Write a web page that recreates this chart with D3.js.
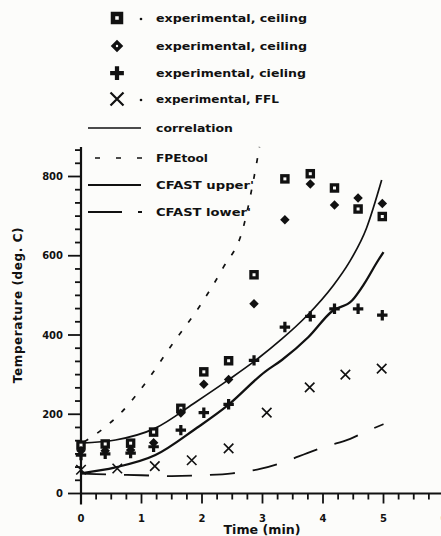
<!DOCTYPE html>
<html>
<head>
<meta charset="utf-8">
<script src="https://cdn.jsdelivr.net/npm/d3@7"></script>
<style>
  html, body { margin: 0; padding: 0; background: #fcfcfa; }
  svg { display: block; }
  text { font-family: "DejaVu Sans", sans-serif; fill: #111; }
</style>
</head>
<body>
<svg id="chart" width="441" height="536"></svg>
<script>
// Experimental measurements (time in minutes, temperature in deg. C)
const expTimes       = [0, 0.4, 0.82, 1.2, 1.65, 2.03, 2.44, 2.86, 3.37, 3.79, 4.19, 4.58, 4.98];
const ceilingSquare  = [122, 125, 127, 155, 215, 307, 335, 552, 794, 807, 771, 718, 699];
const ceilingDiamond = [108, 108, 110, 128, 203, 276, 288, 479, 691, 781, 728, 746, 732];
const ceilingPlus    = [ 97, 100, 102, 118, 160, 204, 225, 336, 420, 447, 466, 466, 450];
const fflTimes       = [0, 0.6, 1.22, 1.83, 2.44, 3.07, 3.78, 4.37, 4.97];
const fflTemps       = [60, 63, 69, 84, 114, 204, 268, 300, 315];

// Model predictions
const corrTimes  = [0, 0.57, 1.23, 1.9, 2.43, 2.92, 3.32, 3.73, 4.17, 4.42, 4.72, 4.97];
const corrTemps  = [127, 135, 165, 231, 286, 340, 390, 448, 525, 580, 670, 791];
const fpeTimes   = [0.05, 0.37, 0.65, 0.9, 1.1, 1.5, 1.98, 2.35, 2.68, 2.85, 2.95];
const fpeTemps   = [130, 164, 202, 246, 286, 375, 477, 570, 670, 790, 875];
const upperTimes = [0, 0.57, 1.23, 1.9, 2.43, 3.04, 3.32, 3.76, 4.15, 4.48, 4.68, 4.91, 5.0];
const upperTemps = [51, 66, 97, 164, 223, 307, 337, 395, 460, 487, 529, 588, 609];
const lowerTimes = [0, 0.5, 1.0, 1.5, 2.0, 2.5, 2.96, 3.4, 3.74, 4.03, 4.45, 4.69, 5.0];
const lowerTemps = [50, 48, 46, 44, 46, 51, 62, 82, 102, 118, 138, 155, 175];

// Axis ticks
const xTickLabels = ["0", "1", "2", "3", "4", "5", "6"];
const yTickLabels = ["0", "200", "400", "600", "800"];

// Legend entries
const legendLabels = ["experimental, ceiling", "experimental, ceiling", "experimental, cieling",
                      "experimental, FFL", "correlation", "FPEtool", "CFAST upper'", "CFAST lower'"];
const legendKinds  = ["square", "diamond", "plus", "cross", "solid", "short", "thick", "long"];
const legendWidths = [151, 151, 150, 123, 77, 52, 98, 95];

const svg = d3.select("#chart");
const x = d3.scaleLinear().domain([0, 6]).range([81, 444]);
const y = d3.scaleLinear().domain([0, 800]).range([493.5, 176.5]);
const yTop = 200 / 6 * 26;

// ---- axes ----
const axisG = svg.append("g");
axisG.append("line").attr("x1", x(0) - 1).attr("x2", 441).attr("y1", y(0)).attr("y2", y(0))
  .attr("stroke", "#111").attr("stroke-width", 2.2);
axisG.append("line").attr("x1", x(0)).attr("x2", x(0)).attr("y1", y(0) + 11).attr("y2", y(yTop) - 3)
  .attr("stroke", "#111").attr("stroke-width", 2.2);

// x ticks: every 0.25 min, majors each minute
const xMinor = d3.range(0, 6.01, 0.25);
axisG.selectAll(".xt").data(xMinor).join("line")
  .attr("x1", d => x(d)).attr("x2", d => x(d))
  .attr("y1", y(0)).attr("y2", d => y(0) + (Math.abs(d - Math.round(d)) < 1e-6 ? 10 : 6))
  .attr("stroke", "#111").attr("stroke-width", 1.8);
axisG.selectAll(".xl").data(xTickLabels).join("text")
  .attr("x", (d, i) => x(i)).attr("y", 522)
  .attr("text-anchor", "middle").attr("font-size", 10).attr("font-weight", "bold").text(d => d);

// y ticks: six subdivisions per 200 deg., majors labelled
const yMinor = d3.range(0, 27).map(i => i * 200 / 6);
axisG.selectAll(".yt").data(yMinor).join("line")
  .attr("y1", d => y(d)).attr("y2", d => y(d))
  .attr("x1", (d, i) => x(0) - (i % 6 === 0 ? 13 : 6)).attr("x2", x(0) + 1)
  .attr("stroke", "#111").attr("stroke-width", 1.8);
axisG.selectAll(".yl").data(yTickLabels).join("text")
  .attr("x", 63).attr("y", d => y(+d) + 3.5)
  .attr("text-anchor", "end").attr("font-size", 10).attr("font-weight", "bold").text(d => d);

svg.append("text").attr("transform", "translate(22,305) rotate(-90)")
  .attr("text-anchor", "middle").attr("font-size", 12).attr("font-weight", "bold")
  .attr("letter-spacing", 0.6)
  .text("Temperature (deg. C)");
svg.append("text").attr("x", 262).attr("y", 534)
  .attr("text-anchor", "middle").attr("font-size", 11.5).attr("font-weight", "bold")
  .attr("textLength", 77).attr("lengthAdjust", "spacingAndGlyphs")
  .text("Time (min)");

// ---- curves ----
const line = d3.line().x(d => x(d[0])).y(d => y(d[1])).curve(d3.curveMonotoneX);
const pairs = (ts, vs) => ts.map((t, i) => [t, vs[i]]);
const curves = [
  { pts: pairs(corrTimes, corrTemps),   w: 1.7, dash: null },
  { pts: pairs(fpeTimes, fpeTemps),     w: 1.7, dash: "5,11" },
  { pts: pairs(upperTimes, upperTemps), w: 2.3, dash: null },
  { pts: pairs(lowerTimes, lowerTemps), w: 1.8, dash: "25,18" }
];
svg.append("g").selectAll("path").data(curves).join("path")
  .attr("d", d => line(d.pts)).attr("fill", "none").attr("stroke", "#111")
  .attr("stroke-width", d => d.w).attr("stroke-dasharray", d => d.dash);

// ---- markers ----
// s: outer size, h: size of the white centre (0 for a solid mark)
function marker(g, kind, s, h) {
  if (kind === "square") {
    const side = (s + h) / 2;
    g.append("rect").attr("x", -side / 2).attr("y", -side / 2)
      .attr("width", side).attr("height", side)
      .attr("fill", "#fcfcfa").attr("stroke", "#111").attr("stroke-width", (s - h) / 2);
  } else if (kind === "diamond") {
    const r = s * 0.5;
    g.append("path").attr("d", `M0,${-r}L${r},0L0,${r}L${-r},0Z`).attr("fill", "#111");
    if (h) g.append("circle").attr("r", h / 2).attr("fill", "#fcfcfa");
  } else if (kind === "plus") {
    const r = s * 0.55;
    g.append("path").attr("d", `M${-r},0H${r}M0,${-r}V${r}`).attr("stroke", "#111").attr("stroke-width", s * 0.34);
  } else if (kind === "cross") {
    const r = s * 0.5;
    g.append("path").attr("d", `M${-r},${-r}L${r},${r}M${r},${-r}L${-r},${r}`)
      .attr("stroke", "#111").attr("stroke-width", s * 0.17);
  }
}
const pointSets = [
  { kind: "square",  pts: pairs(expTimes, ceilingSquare),  hole: 3 },
  { kind: "diamond", pts: pairs(expTimes, ceilingDiamond), hole: 0 },
  { kind: "plus",    pts: pairs(expTimes, ceilingPlus),    hole: 0 },
  { kind: "cross",   pts: pairs(fflTimes, fflTemps),       hole: 0 }
];
const ptsG = svg.append("g");
pointSets.forEach(set => {
  set.pts.forEach(p => {
    const g = ptsG.append("g").attr("transform", `translate(${x(p[0])},${y(p[1])})`);
    marker(g, set.kind, 9.5, set.hole);
  });
});

// ---- legend ----
const legY = [18, 46, 73, 99, 128, 158, 185, 212];
const leg = svg.append("g");
legendLabels.forEach((lab, i) => {
  const kind = legendKinds[i];
  const yy = legY[i];
  if (i < 4) {
    const g = leg.append("g").attr("transform", `translate(117,${yy})`);
    marker(g, kind, kind === "cross" ? 13 : 12.5, kind === "diamond" ? 2.4 : 3.5);
    if (kind === "square" || kind === "cross") {
      leg.append("circle").attr("cx", 141).attr("cy", yy + 1).attr("r", 1.3).attr("fill", "#111");
    }
  } else if (kind === "solid") {
    leg.append("line").attr("x1", 88).attr("x2", 141).attr("y1", yy).attr("y2", yy)
      .attr("stroke", "#111").attr("stroke-width", 1.7);
  } else if (kind === "short") {
    leg.append("line").attr("x1", 95).attr("x2", 142).attr("y1", yy).attr("y2", yy)
      .attr("stroke", "#111").attr("stroke-width", 1.7).attr("stroke-dasharray", "5,16");
  } else if (kind === "thick") {
    leg.append("line").attr("x1", 88).attr("x2", 141).attr("y1", yy).attr("y2", yy)
      .attr("stroke", "#111").attr("stroke-width", 2.2);
  } else if (kind === "long") {
    leg.append("line").attr("x1", 88).attr("x2", 142).attr("y1", yy).attr("y2", yy)
      .attr("stroke", "#111").attr("stroke-width", 1.8).attr("stroke-dasharray", "34,16,4,10");
  }
  leg.append("text").attr("x", 156).attr("y", yy + 4)
    .attr("font-size", 10.5).attr("font-weight", "bold")
    .attr("textLength", legendWidths[i]).attr("lengthAdjust", "spacingAndGlyphs")
    .text(lab);
});
</script>
</body>
</html>
